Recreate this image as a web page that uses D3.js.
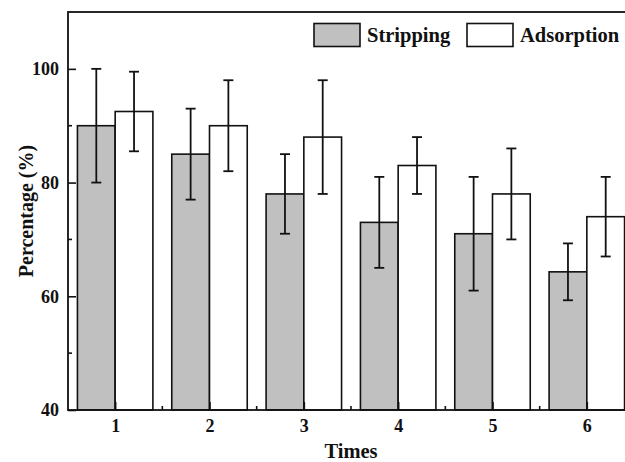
<!DOCTYPE html>
<html>
  <head>
    <meta charset="utf-8">
    <title>Stripping / Adsorption</title>
    <script src="https://d3js.org/d3.v7.min.js"></script>
    <style>
      body { margin: 0; background: #fff; }
      text { font-family: "Liberation Serif", "Times New Roman", serif; font-weight: bold; }
    </style>
  </head>
  <body>
    <svg id="chart"></svg>
    <script>
      // data
      var times = [1, 2, 3, 4, 5, 6];
      var stripping = [90, 85, 78, 73, 71, 64.3];
      var strippingErr = [10, 8, 7, 8, 10, 5];
      var adsorption = [92.5, 90, 88, 83, 78, 74];
      var adsorptionErr = [7, 8, 10, 5, 8, 7];
      var yTicks = [40, 60, 80, 100];
      var yMinor = [50, 70, 90];
      var seriesNames = ["Stripping", "Adsorption"];
      var seriesColors = ["#c0c0c0", "#ffffff"];

      var width = 625, height = 462;
      var margin = {top: 12, right: -9, bottom: 52, left: 68};

      var svg = d3.select("#chart")
        .attr("width", width)
        .attr("height", height);

      var x = d3.scaleLinear()
        .domain([0.5, 6.5])
        .range([margin.left, width - margin.right]);
      var y = d3.scaleLinear()
        .domain([40, 110])
        .range([height - margin.bottom, margin.top]);

      var barW = x(0.4) - x(0);

      var series = [
        {name: seriesNames[0], values: stripping, err: strippingErr, color: seriesColors[0], off: -1},
        {name: seriesNames[1], values: adsorption, err: adsorptionErr, color: seriesColors[1], off: 0}
      ];

      // bars
      series.forEach(function(s) {
        svg.append("g").selectAll("rect")
          .data(times)
          .enter()
          .append("rect")
          .attr("x", function(d) { return x(d) + s.off * barW; })
          .attr("y", function(d, i) { return y(s.values[i]); })
          .attr("width", barW)
          .attr("height", function(d, i) { return y(40) - y(s.values[i]); })
          .attr("fill", s.color)
          .attr("stroke", "#111")
          .attr("stroke-width", 1.6);
      });

      // error bars
      series.forEach(function(s) {
        var g = svg.append("g").attr("stroke", "#111").attr("stroke-width", 1.8);
        times.forEach(function(t, i) {
          var cx = x(t) + s.off * barW + barW / 2;
          var hi = y(s.values[i] + s.err[i]);
          var lo = y(s.values[i] - s.err[i]);
          g.append("line").attr("x1", cx).attr("x2", cx).attr("y1", hi).attr("y2", lo);
          g.append("line").attr("x1", cx - 5).attr("x2", cx + 5).attr("y1", hi).attr("y2", hi);
          g.append("line").attr("x1", cx - 5).attr("x2", cx + 5).attr("y1", lo).attr("y2", lo);
        });
      });

      // frame
      svg.append("rect")
        .attr("x", x(0.5))
        .attr("y", y(110))
        .attr("width", x(6.5) - x(0.5))
        .attr("height", y(40) - y(110))
        .attr("fill", "none")
        .attr("stroke", "#111")
        .attr("stroke-width", 1.8);

      // y axis
      var yAxis = d3.axisLeft(y)
        .tickValues(yTicks)
        .tickSize(-8)
        .tickFormat(d3.format("d"));
      var gy = svg.append("g")
        .attr("transform", "translate(" + x(0.5) + ",0)")
        .call(yAxis);
      gy.select(".domain").remove();
      gy.selectAll("line").attr("stroke", "#111").attr("stroke-width", 1.6);
      gy.selectAll("text").attr("x", -9).attr("font-size", 18).attr("fill", "#111");
      gy.selectAll(".minor")
        .data(yMinor)
        .enter()
        .append("line")
        .attr("class", "minor")
        .attr("x1", 0).attr("x2", 4)
        .attr("y1", function(d) { return y(d); })
        .attr("y2", function(d) { return y(d); })
        .attr("stroke", "#111")
        .attr("stroke-width", 1.6);

      // x axis
      var xAxis = d3.axisBottom(x)
        .tickValues(times)
        .tickSize(-8)
        .tickFormat(d3.format("d"));
      var gx = svg.append("g")
        .attr("transform", "translate(0," + y(40) + ")")
        .call(xAxis);
      gx.select(".domain").remove();
      gx.selectAll("line").attr("stroke", "#111").attr("stroke-width", 1.6);
      gx.selectAll("text").attr("y", 9).attr("font-size", 18).attr("fill", "#111");
      gx.selectAll(".minor")
        .data(times.slice(0, 5))
        .enter()
        .append("line")
        .attr("class", "minor")
        .attr("x1", function(d) { return x(d + 0.5); })
        .attr("x2", function(d) { return x(d + 0.5); })
        .attr("y1", 0).attr("y2", -4)
        .attr("stroke", "#111")
        .attr("stroke-width", 1.6);

      // axis titles
      svg.append("text")
        .attr("x", 351)
        .attr("y", 458)
        .attr("text-anchor", "middle")
        .attr("font-size", 20.5)
        .attr("fill", "#111")
        .text("Times");
      svg.append("text")
        .attr("transform", "translate(33," + ((y(40) + y(110)) / 2) + ") rotate(-90)")
        .attr("text-anchor", "middle")
        .attr("font-size", 20)
        .attr("fill", "#111")
        .text("Percentage (%)");

      // legend
      var legendX = [314, 467];
      var lg = svg.append("g");
      series.forEach(function(s, i) {
        lg.append("rect")
          .attr("x", legendX[i])
          .attr("y", 23.5)
          .attr("width", 46)
          .attr("height", 23)
          .attr("fill", s.color)
          .attr("stroke", "#111")
          .attr("stroke-width", 1.6);
        lg.append("text")
          .attr("x", legendX[i] + 53)
          .attr("y", 42)
          .attr("font-size", 20.5)
          .attr("fill", "#111")
          .text(s.name);
      });
    </script>
  </body>
</html>
